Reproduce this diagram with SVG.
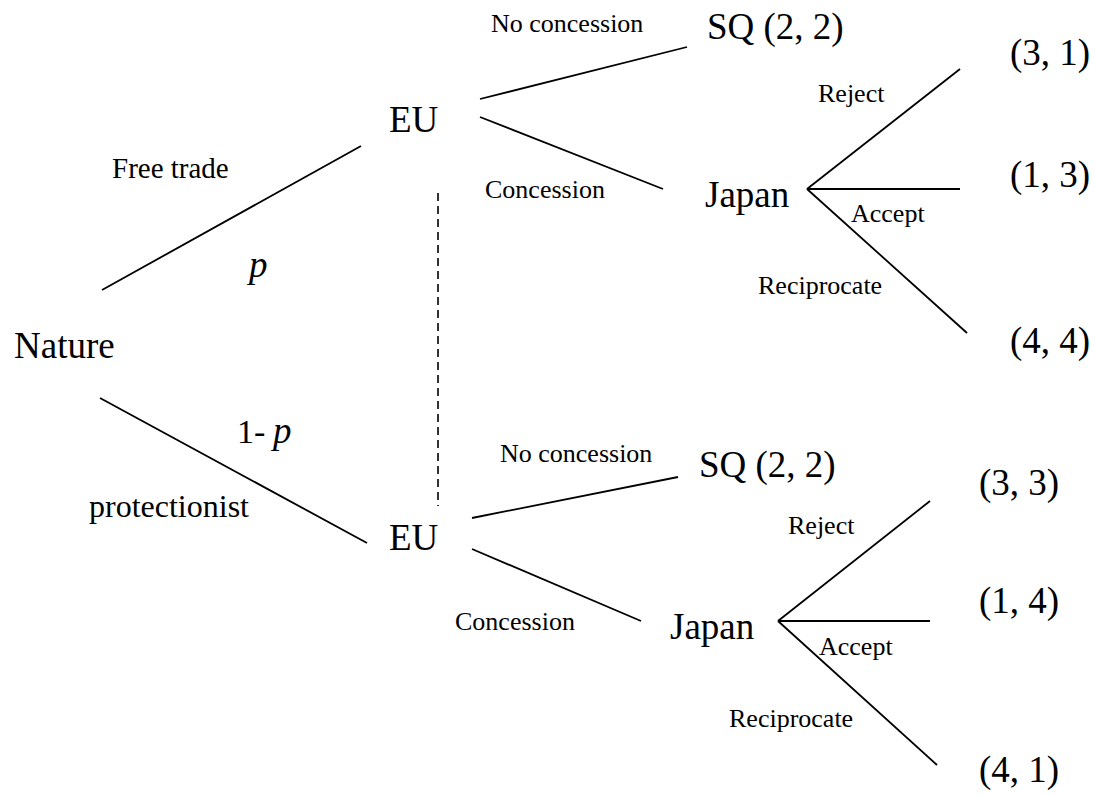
<svg xmlns="http://www.w3.org/2000/svg" width="1095" height="796" viewBox="0 0 1095 796" font-family="'Liberation Serif', 'Times New Roman', Times, 'DejaVu Serif', serif">
<style>
text, tspan{font-family:'Liberation Serif', 'Times New Roman', Times, 'DejaVu Serif', serif; fill:#000}
.big{font-size:37px}
.lbl{font-size:26px}
.it{font-style:italic}
.edge{stroke:#000;stroke-width:1.8;fill:none}
.info{stroke:#000;stroke-width:1.6;stroke-dasharray:8 5;fill:none}
</style>
<rect width="1095" height="796" fill="#fff"/>
<g id="connectors">
  <line class="edge" x1="102" y1="290" x2="361" y2="146"/>
  <line class="edge" x1="100" y1="398" x2="367" y2="543"/>
  <line class="info" x1="438" y1="193" x2="438" y2="506"/>
  <line class="edge" x1="480" y1="99" x2="687" y2="47"/>
  <line class="edge" x1="480" y1="117" x2="663" y2="189"/>
  <line class="edge" x1="807" y1="189" x2="960" y2="69"/>
  <line class="edge" x1="807" y1="189" x2="960" y2="189"/>
  <line class="edge" x1="807" y1="189" x2="967" y2="333"/>
  <line class="edge" x1="472" y1="518" x2="678" y2="477"/>
  <line class="edge" x1="472" y1="549" x2="641" y2="621"/>
  <line class="edge" x1="778" y1="621" x2="930" y2="501"/>
  <line class="edge" x1="778" y1="621" x2="930" y2="621"/>
  <line class="edge" x1="778" y1="621" x2="937" y2="765"/>
</g>
<g id="edge-labels">
  <text x="112" y="178" style="font-size:29px">Free trade</text>
  <text x="249" y="277" class="big it">p</text>
  <text x="237" y="443" style="font-size:34px">1- <tspan x="273" class="it" style="font-size:37px">p</tspan></text>
  <text x="89" y="517" style="font-size:32px">protectionist</text>
  <text x="491" y="32" class="lbl">No concession</text>
  <text x="485" y="198" class="lbl">Concession</text>
  <text x="818" y="102" class="lbl">Reject</text>
  <text x="851" y="222" class="lbl">Accept</text>
  <text x="758" y="294" class="lbl">Reciprocate</text>
  <text x="500" y="462" class="lbl">No concession</text>
  <text x="455" y="630" class="lbl">Concession</text>
  <text x="788" y="534" class="lbl">Reject</text>
  <text x="819" y="655" class="lbl">Accept</text>
  <text x="729" y="727" class="lbl">Reciprocate</text>
</g>
<g id="nature"><text x="14" y="358" class="big">Nature</text></g>
<g id="eu-top"><text x="389" y="132" class="big">EU</text></g>
<g id="eu-bottom"><text x="389" y="550" class="big">EU</text></g>
<g id="sq-top"><text x="707" y="39" class="big">SQ (2, 2)</text></g>
<g id="japan-top"><text x="705" y="207" class="big">Japan</text></g>
<g id="payoff-31"><text x="1010" y="65" class="big">(3, 1)</text></g>
<g id="payoff-13"><text x="1010" y="187" class="big">(1, 3)</text></g>
<g id="payoff-44"><text x="1010" y="353" class="big">(4, 4)</text></g>
<g id="sq-bottom"><text x="699" y="477" class="big">SQ (2, 2)</text></g>
<g id="japan-bottom"><text x="670" y="639" class="big">Japan</text></g>
<g id="payoff-33"><text x="979" y="495" class="big">(3, 3)</text></g>
<g id="payoff-14"><text x="979" y="613" class="big">(1, 4)</text></g>
<g id="payoff-41"><text x="979" y="782" class="big">(4, 1)</text></g>
</svg>
